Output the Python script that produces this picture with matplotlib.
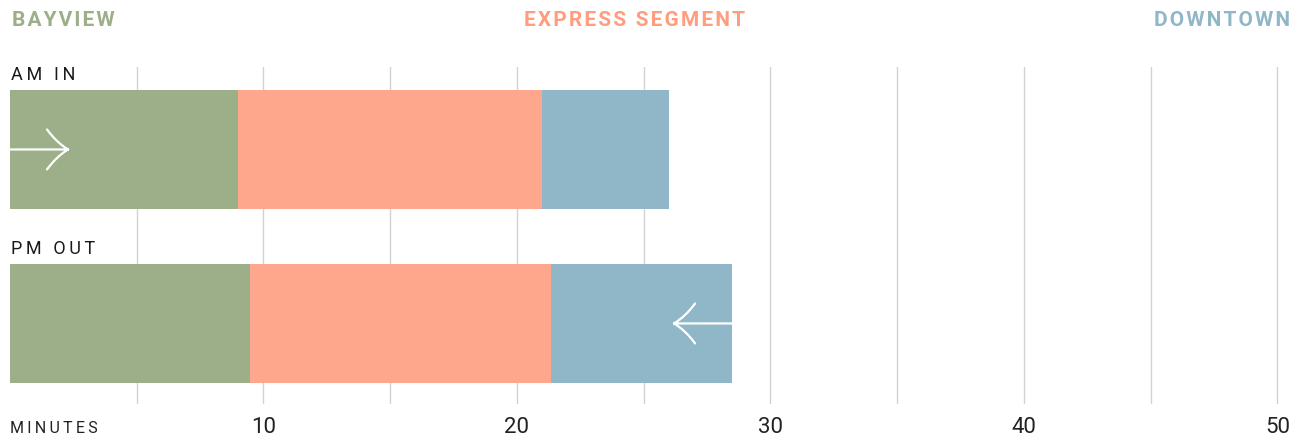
import matplotlib
matplotlib.use("Agg")
import matplotlib.pyplot as plt
from matplotlib.path import Path
from matplotlib.patches import PathPatch

# data
trips = ["AM IN", "PM OUT"]
bayview = [9.0, 9.45]
express = [12.0, 11.9]
downtown = [5.0, 7.15]
ticks = [5, 10, 15, 20, 25, 30, 35, 40, 45, 50]
tick_labels = ["", "10", "", "20", "", "30", "", "40", "", "50"]

GREEN = "#9caf88"
SALMON = "#ffa78c"
BLUE = "#8fb7c8"
HEAD_SALMON = "#ff9d7e"

plt.rcParams['font.family'] = ['Roboto', 'DejaVu Sans']


def spaced(s, sep="\u200a"):
    # crude letter spacing
    return sep.join(s)


W, H = 1307, 439
fig = plt.figure(figsize=(W / 100, H / 100), dpi=100)
ax = fig.add_axes([10 / W, (H - 405) / H, 1280 / W, 337 / H])

bar_h = 0.684
ypos = list(range(len(trips)))
left2 = [a + b for a, b in zip(bayview, express)]
ax.barh(ypos, bayview, height=bar_h, color=GREEN, zorder=2)
ax.barh(ypos, express, left=bayview, height=bar_h, color=SALMON, zorder=2)
ax.barh(ypos, downtown, left=left2, height=bar_h, color=BLUE, zorder=2)

ax.set_xlim(0, 50.5)
ax.set_ylim(1.463, -0.474)
ax.set_xticks(ticks)
ax.set_xticklabels(tick_labels, fontsize=16, color="#222222")
ax.tick_params(axis="x", length=0, pad=9)
ax.set_yticks([])
ax.grid(axis="x", color="#d2d2d2", linewidth=1, zorder=0)
for sp in ax.spines.values():
    sp.set_visible(False)

# trip labels above each bar
for y, name in zip(ypos, trips):
    ax.annotate(spaced(name, "\u2009"), (0, y - bar_h / 2), xytext=(1, 5),
                textcoords="offset points", fontsize=13, color="#1a1a1a",
                va="bottom", ha="left")

ax.text(0, -0.07, spaced("MINUTES", "\u2009"), transform=ax.get_xaxis_transform(),
        fontsize=11.5, color="#222222", va="center", ha="left")


def arrow(x0, x1, y, spread=0.115):
    # shaft plus two curved barbs, tip at x1
    back = -0.83 if x1 > x0 else 0.83
    verts = [(x0, y), (x1, y),
             (x1, y), (x1 + back * 0.55, y - spread * 0.35), (x1 + back, y - spread),
             (x1, y), (x1 + back * 0.55, y + spread * 0.35), (x1 + back, y + spread)]
    codes = [Path.MOVETO, Path.LINETO,
             Path.MOVETO, Path.CURVE3, Path.CURVE3,
             Path.MOVETO, Path.CURVE3, Path.CURVE3]
    ax.add_patch(PathPatch(Path(verts, codes), facecolor="none", edgecolor="white",
                           linewidth=1.6, zorder=3, capstyle="round"))


arrow(0, 2.29, 0)
arrow(left2[1] + downtown[1], 26.2, 1)

# headers
head_y = 1 - 21 / H
fig.text(12 / W, head_y, spaced("BAYVIEW", "\u200a"), color=GREEN, fontsize=15,
         fontweight="bold", va="center", ha="left")
fig.text(635 / W, head_y, spaced("EXPRESS SEGMENT", "\u200a"), color=HEAD_SALMON,
         fontsize=15, fontweight="bold", va="center", ha="center")
fig.text(1290 / W, head_y, spaced("DOWNTOWN", "\u200a"), color=BLUE, fontsize=15,
         fontweight="bold", va="center", ha="right")

fig.savefig("out.png", dpi=100)
